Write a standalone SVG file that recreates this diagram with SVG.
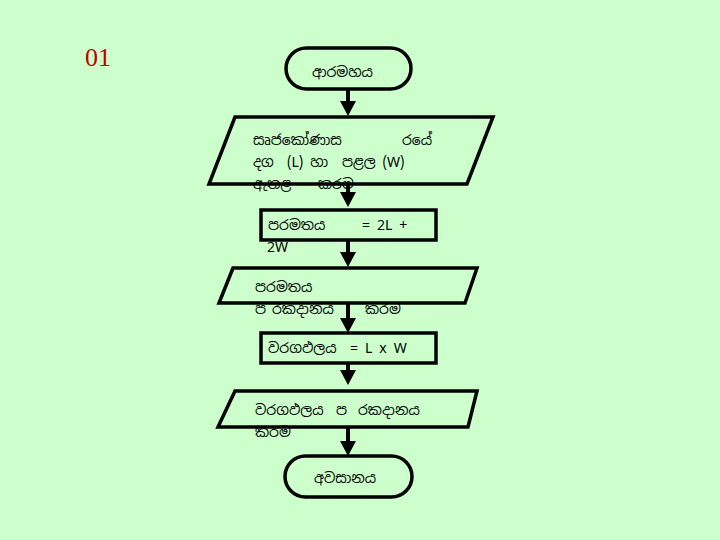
<svg xmlns="http://www.w3.org/2000/svg" width="720" height="540" viewBox="0 0 720 540">
<style>
.shape{fill:none;stroke:#000;stroke-width:3.5;stroke-linejoin:miter}
.t{font-family:"Noto Sans Sinhala","Iskoola Pota","Noto Sans","DejaVu Sans",sans-serif;font-size:14px;fill:#000}
.conn{stroke:#000;stroke-width:4;fill:none}
</style>
<defs>
<marker id="ah" viewBox="0 0 15 16" refX="8" refY="8" markerWidth="15" markerHeight="16" orient="auto" markerUnits="userSpaceOnUse">
<path d="M0,0 L15,8 L0,16 z" fill="#000"/>
</marker>
</defs>
<rect width="720" height="540" fill="#ccffcc"/>
<text x="85" y="66" font-family="'Liberation Serif',serif" font-size="26" fill="#c00000">01</text>
<g id="connectors">
<line class="conn" x1="348" y1="89" x2="348" y2="109" marker-end="url(#ah)"/>
<line class="conn" x1="348" y1="184" x2="348" y2="200" marker-end="url(#ah)"/>
<line class="conn" x1="348" y1="240" x2="348" y2="260" marker-end="url(#ah)"/>
<line class="conn" x1="348" y1="303" x2="348" y2="326" marker-end="url(#ah)"/>
<line class="conn" x1="348" y1="363" x2="348" y2="378" marker-end="url(#ah)"/>
<line class="conn" x1="348" y1="427" x2="348" y2="449" marker-end="url(#ah)"/>
</g>
<g id="start">
<rect class="shape" x="286" y="48" width="125" height="41" rx="20.5"/>
<text class="t" x="312" y="77">ආරමහය</text>
</g>
<g id="input">
<polygon class="shape" points="235,117 493,117 467,184 209,184"/>
<text class="t" x="253" y="145">සෘජකෝණාස</text>
<text class="t" x="402" y="145">රයේ</text>
<text class="t" x="253" y="167">දග</text>
<text class="t" x="287" y="167">(L) හා</text>
<text class="t" x="342" y="167">පළල (W)</text>
<text class="t" x="253" y="189">ඇතළ</text>
<text class="t" x="318" y="189">කරම</text>
</g>
<g id="perimeter">
<rect class="shape" x="261" y="210" width="175" height="30"/>
<text class="t" x="268" y="230">පරමතය</text>
<text class="t" x="362" y="230">= 2L +</text>
<text class="t" x="267" y="252">2W</text>
</g>
<g id="showPerimeter">
<polygon class="shape" points="233,268 477,268 465,303 219,303"/>
<text class="t" x="255" y="292">පරමතය</text>
<text class="t" x="255" y="314">ප</text>
<text class="t" x="272" y="314">රකදානය</text>
<text class="t" x="365" y="314">කරම</text>
</g>
<g id="area">
<rect class="shape" x="261" y="333" width="175" height="30"/>
<text class="t" x="268" y="353">වරගඵලය</text>
<text class="t" x="350" y="353">= L x W</text>
</g>
<g id="showArea">
<polygon class="shape" points="235,391 477,391 468,427 218,427"/>
<text class="t" x="255" y="415">වරගඵලය</text>
<text class="t" x="336" y="415">ප</text>
<text class="t" x="358" y="415">රකදානය</text>
<text class="t" x="255" y="437">කරම</text>
</g>
<g id="end">
<rect class="shape" x="285" y="456" width="127" height="41" rx="20.5"/>
<text class="t" x="314" y="483">අවසානය</text>
</g>
</svg>
